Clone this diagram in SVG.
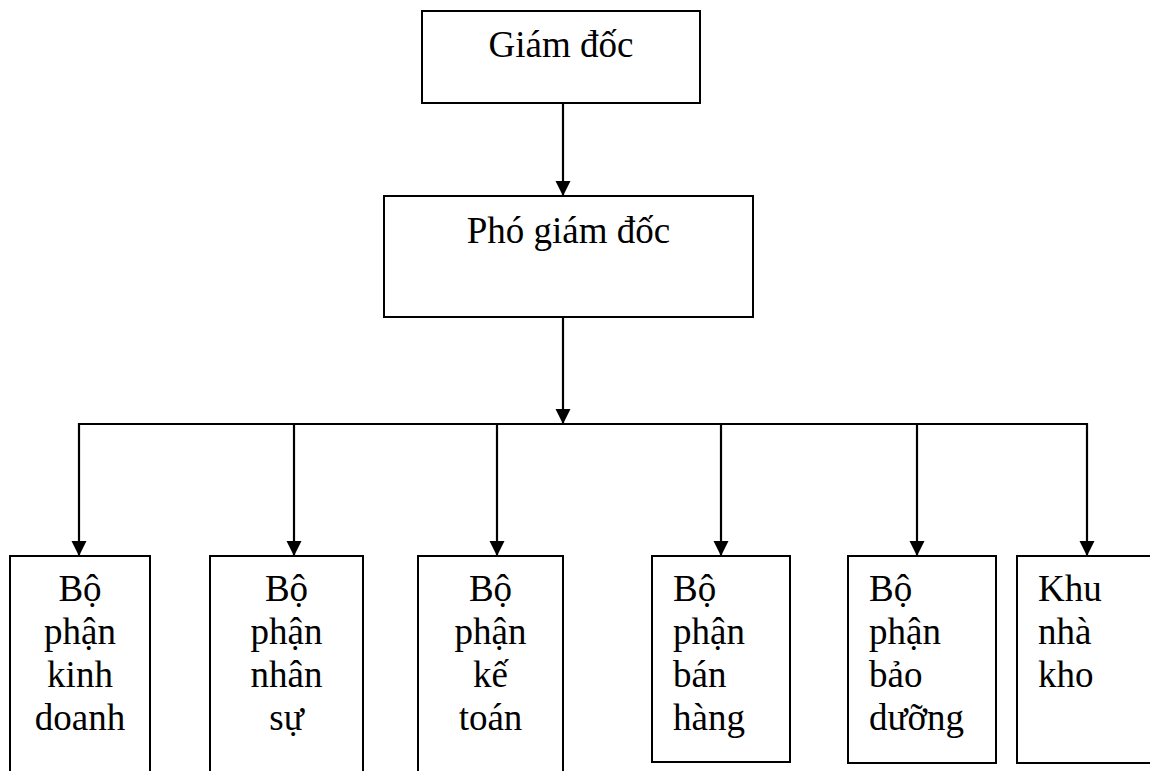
<svg xmlns="http://www.w3.org/2000/svg" width="1150" height="771" viewBox="0 0 1150 771">
<style>
.box{fill:#fff;stroke:#000;stroke-width:2}
.lbl{font-family:"Liberation Serif","Times New Roman",serif;font-size:37px;fill:#000}
.c{text-anchor:middle}
.conn{stroke:#000;stroke-width:2.2;fill:none}
</style>
<defs>
<marker id="ah" markerUnits="userSpaceOnUse" markerWidth="16" markerHeight="16" refX="15" refY="7.5" orient="auto">
<path d="M0,0 L15,7.5 L0,15 Z" fill="#000"/>
</marker>
</defs>
<rect width="1150" height="771" fill="#fff"/>
<g id="connectors">
<line class="conn" x1="563" y1="103" x2="563" y2="196" marker-end="url(#ah)"/>
<line class="conn" x1="563" y1="317" x2="563" y2="424" marker-end="url(#ah)"/>
<line class="conn" x1="79" y1="424" x2="1088" y2="424" stroke-width="2"/>
<line class="conn" x1="79" y1="423" x2="79" y2="556" marker-end="url(#ah)"/>
<line class="conn" x1="294" y1="424" x2="294" y2="556" marker-end="url(#ah)"/>
<line class="conn" x1="497" y1="424" x2="497" y2="556" marker-end="url(#ah)"/>
<line class="conn" x1="721" y1="424" x2="721" y2="556" marker-end="url(#ah)"/>
<line class="conn" x1="917" y1="424" x2="917" y2="556" marker-end="url(#ah)"/>
<line class="conn" x1="1087" y1="423" x2="1087" y2="556" marker-end="url(#ah)"/>
</g>
<g id="giam-doc">
<rect class="box" x="422" y="11" width="278" height="92"/>
<text class="lbl c" x="561" y="57">Giám đốc</text>
</g>
<g id="pho-giam-doc">
<rect class="box" x="384" y="196" width="369" height="121"/>
<text class="lbl c" x="568.5" y="243">Phó giám đốc</text>
</g>
<g id="kinh-doanh">
<rect class="box" x="10" y="556" width="140" height="240"/>
<text class="lbl c" x="80" y="601">Bộ<tspan x="80" y="644">phận</tspan><tspan x="80" y="687">kinh</tspan><tspan x="80" y="730">doanh</tspan></text>
</g>
<g id="nhan-su">
<rect class="box" x="210" y="556" width="153" height="240"/>
<text class="lbl c" x="286.5" y="601">Bộ<tspan x="286.5" y="644">phận</tspan><tspan x="286.5" y="687">nhân</tspan><tspan x="286.5" y="730">sự</tspan></text>
</g>
<g id="ke-toan">
<rect class="box" x="418" y="556" width="145" height="240"/>
<text class="lbl c" x="490.5" y="601">Bộ<tspan x="490.5" y="644">phận</tspan><tspan x="490.5" y="687">kế</tspan><tspan x="490.5" y="730">toán</tspan></text>
</g>
<g id="ban-hang">
<rect class="box" x="652" y="556" width="138" height="206"/>
<text class="lbl" x="673" y="601">Bộ<tspan x="673" y="644">phận</tspan><tspan x="673" y="687">bán</tspan><tspan x="673" y="730">hàng</tspan></text>
</g>
<g id="bao-duong">
<rect class="box" x="848" y="556" width="148" height="207"/>
<text class="lbl" x="869" y="601">Bộ<tspan x="869" y="644">phận</tspan><tspan x="869" y="687">bảo</tspan><tspan x="869" y="730">dưỡng</tspan></text>
</g>
<g id="nha-kho">
<rect class="box" x="1017" y="556" width="160" height="207"/>
<text class="lbl" x="1038" y="601">Khu<tspan x="1038" y="644">nhà</tspan><tspan x="1038" y="687">kho</tspan></text>
</g>
</svg>
